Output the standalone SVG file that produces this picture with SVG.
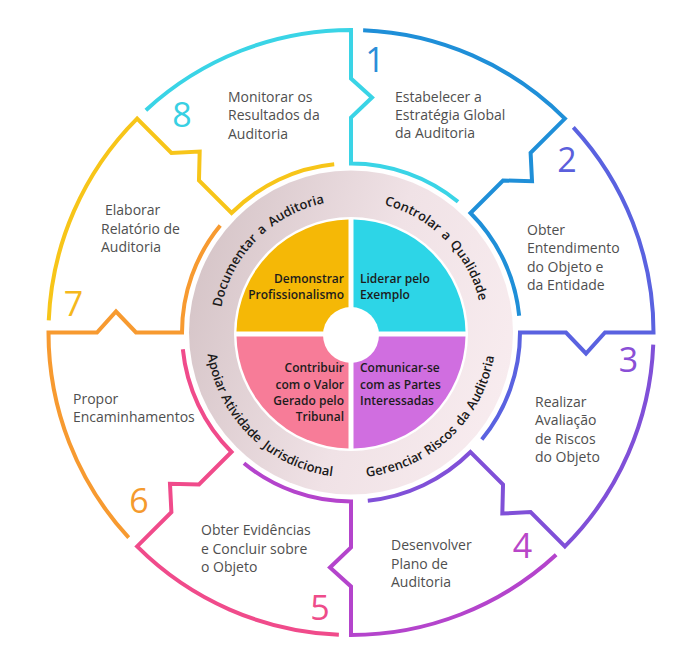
<svg xmlns="http://www.w3.org/2000/svg" width="700" height="667" viewBox="0 0 700 667">
<defs>
<linearGradient id="ringGrad" x1="0" y1="0.35" x2="1" y2="0.65">
<stop offset="0" stop-color="#d6c5c8"/>
<stop offset="0.55" stop-color="#f0e2e6"/>
<stop offset="1" stop-color="#f8ecef"/>
</linearGradient>
<path id="arcTL" d="M226.96,377.65 A132,132 0 0 1 396.15,208.46"/>
<path id="arcTR" d="M305.85,208.46 A132,132 0 0 1 475.04,377.65"/>
<path id="arcBR" d="M301.41,468.76 A145,145 0 0 0 487.26,282.91"/>
<path id="arcBL" d="M214.74,282.91 A145,145 0 0 0 400.59,468.76"/>
</defs>
<style>
.seg{fill:none;stroke-width:4;stroke-linejoin:miter;stroke-linecap:butt}
.lbl{font-family:"Open Sans","Noto Sans",sans-serif;font-size:14px;fill:#4f4f4f}
.num{font-family:"Open Sans","Noto Sans",sans-serif;font-size:34px;text-anchor:middle}
.q{font-family:"Open Sans","Noto Sans",sans-serif;font-size:12px;font-weight:600;fill:#1c1c1c}
.qr{text-anchor:end}
.rt{font-family:"Open Sans","Noto Sans",sans-serif;font-size:13px;font-weight:600;fill:#1a1a1a}
</style>
<rect width="700" height="667" fill="#ffffff"/>

<g id="core">
<circle cx="351" cy="332.5" r="162" fill="url(#ringGrad)"/>
<circle cx="351" cy="334" r="117" fill="#ffffff"/>
</g>
<g id="ring-documentar">
<text class="rt"><textPath href="#arcTL" startOffset="110.5" text-anchor="middle">Documentar</textPath></text>
<text class="rt"><textPath href="#arcTL" startOffset="159" text-anchor="middle">a</textPath></text>
<text class="rt"><textPath href="#arcTL" startOffset="197.5" text-anchor="middle">Auditoria</textPath></text>
</g>
<g id="ring-controlar">
<text class="rt"><textPath href="#arcTR" startOffset="109.5" text-anchor="middle">Controlar</textPath></text>
<text class="rt"><textPath href="#arcTR" startOffset="148.4" text-anchor="middle">a</textPath></text>
<text class="rt"><textPath href="#arcTR" startOffset="189.5" text-anchor="middle">Qualidade</textPath></text>
</g>
<g id="ring-gerenciar">
<text class="rt"><textPath href="#arcBR" startOffset="97" text-anchor="middle">Gerenciar</textPath></text>
<text class="rt"><textPath href="#arcBR" startOffset="151" text-anchor="middle">Riscos</textPath></text>
<text class="rt"><textPath href="#arcBR" startOffset="183.5" text-anchor="middle">da</textPath></text>
<text class="rt"><textPath href="#arcBR" startOffset="225" text-anchor="middle">Auditoria</textPath></text>
</g>
<g id="ring-apoiar">
<text class="rt"><textPath href="#arcBL" startOffset="93" text-anchor="middle">Apoiar</textPath></text>
<text class="rt"><textPath href="#arcBL" startOffset="147" text-anchor="middle">Atividade</textPath></text>
<text class="rt"><textPath href="#arcBL" startOffset="221" text-anchor="middle">Jurisdicional</textPath></text>
</g>

<g id="q-profissionalismo">
<path d="M348.5,331.5 V219.5 A114.5,114.5 0 0 0 236.5,331.5 Z" fill="#f5b806"/>
<text class="q qr" x="344" y="283">Demonstrar</text>
<text class="q qr" x="344" y="299">Profissionalismo</text>
</g>
<g id="q-exemplo">
<path d="M353.5,331.5 V219.5 A114.5,114.5 0 0 1 465.5,331.5 Z" fill="#2dd5e7"/>
<text class="q" x="360" y="283">Liderar pelo</text>
<text class="q" x="360" y="299">Exemplo</text>
</g>
<g id="q-valor">
<path d="M348.5,336.5 V448.5 A114.5,114.5 0 0 1 236.5,336.5 Z" fill="#f77c98"/>
<text class="q qr" x="344" y="372">Contribuir</text>
<text class="q qr" x="344" y="388.5">com o Valor</text>
<text class="q qr" x="344" y="405">Gerado pelo</text>
<text class="q qr" x="344" y="421">Tribunal</text>
</g>
<g id="q-comunicar">
<path d="M353.5,336.5 V448.5 A114.5,114.5 0 0 0 465.5,336.5 Z" fill="#d06ee0"/>
<text class="q" x="360" y="372">Comunicar-se</text>
<text class="q" x="360" y="388.5">com as Partes</text>
<text class="q" x="360" y="405">Interessadas</text>
</g>
<circle cx="351" cy="335" r="28" fill="#ffffff"/>

<g id="seg1">
<path class="seg" stroke="#1f8fd8" d="M363.14,30.25 A302.5,302.5 0 0 1 564.90,118.60 L530.61,152.89 L532.02,181.18 L503.03,180.47 L470.50,213.00 A169,169 0 0 1 519.17,315.71"/>
<text class="num" fill="#2a8ed8" x="375" y="72">1</text>
<text class="lbl" x="395" y="102">Estabelecer a</text>
<text class="lbl" x="395" y="120">Estratégia Global</text>
<text class="lbl" x="395" y="138">da Auditoria</text>
</g>
<g id="seg2">
<path class="seg" stroke="#5a62e0" d="M573.31,127.36 A302.5,302.5 0 0 1 653.50,332.50 L605,332.5 L586,353.5 L566,332.5 L520,332.5 A169,169 0 0 1 481.78,439.54"/>
<text class="num" fill="#5b5fdc" x="567" y="172">2</text>
<text class="lbl" x="527" y="235">Obter</text>
<text class="lbl" x="527" y="253">Entendimento</text>
<text class="lbl" x="527" y="271.5">do Objeto e</text>
<text class="lbl" x="527" y="290">da Entidade</text>
</g>
<g id="seg3">
<path class="seg" stroke="#8050d8" d="M653.25,344.64 A302.5,302.5 0 0 1 564.90,546.40 L530.61,512.11 L502.32,513.52 L503.03,484.53 L470.50,452.00 A169,169 0 0 1 367.79,500.67"/>
<text class="num" fill="#8a4fd6" x="628.5" y="372">3</text>
<text class="lbl" x="535" y="407">Realizar</text>
<text class="lbl" x="535" y="425">Avaliação</text>
<text class="lbl" x="535" y="443.5">de Riscos</text>
<text class="lbl" x="535" y="462">do Objeto</text>
</g>
<g id="seg4">
<path class="seg" stroke="#b444cc" d="M556.14,554.81 A302.5,302.5 0 0 1 351,635 L351,586.5 L330,567.5 L351,547.5 L351,501.5 A169,169 0 0 1 243.96,463.28"/>
<text class="num" fill="#b846c8" x="522.5" y="558">4</text>
<text class="lbl" x="391" y="550">Desenvolver</text>
<text class="lbl" x="391" y="568.5">Plano de</text>
<text class="lbl" x="391" y="587">Auditoria</text>
</g>
<g id="seg5">
<path class="seg" stroke="#f04b8b" d="M338.86,634.75 A302.5,302.5 0 0 1 137.10,546.40 L171.39,512.11 L169.98,483.82 L198.97,484.53 L231.50,452.00 A169,169 0 0 1 182.83,349.29"/>
<text class="num" fill="#ee4c8a" x="320" y="620">5</text>
<text class="lbl" x="201" y="535">Obter Evidências</text>
<text class="lbl" x="201" y="553.5">e Concluir sobre</text>
<text class="lbl" x="201" y="572">o Objeto</text>
</g>
<g id="seg6">
<path class="seg" stroke="#f79a30" d="M128.69,537.64 A302.5,302.5 0 0 1 48.50,332.50 L97,332.5 L116,311.5 L136,332.5 L182,332.5 A169,169 0 0 1 220.22,225.46"/>
<text class="num" fill="#f59a2e" x="139" y="513">6</text>
<text class="lbl" x="73" y="403.5">Propor</text>
<text class="lbl" x="73" y="422">Encaminhamentos</text>
</g>
<g id="seg7">
<path class="seg" stroke="#f7c519" d="M48.75,320.36 A302.5,302.5 0 0 1 137.10,118.60 L171.39,152.89 L199.68,151.48 L198.97,180.47 L231.50,213.00 A169,169 0 0 1 334.21,164.33"/>
<text class="num" fill="#f5b81c" x="73.5" y="316">7</text>
<text class="lbl" x="105" y="215">Elaborar</text>
<text class="lbl" x="101" y="233.5">Relatório de</text>
<text class="lbl" x="101" y="252">Auditoria</text>
</g>
<g id="seg8">
<path class="seg" stroke="#3ad4e6" d="M145.86,110.19 A302.5,302.5 0 0 1 351,30 L351,78.5 L372,97.5 L351,117.5 L351,163.5 A169,169 0 0 1 458.04,201.72"/>
<text class="num" fill="#38d0e3" x="182" y="127">8</text>
<text class="lbl" x="228" y="101.5">Monitorar os</text>
<text class="lbl" x="228" y="120">Resultados da</text>
<text class="lbl" x="228" y="138.5">Auditoria</text>
</g>
</svg>
